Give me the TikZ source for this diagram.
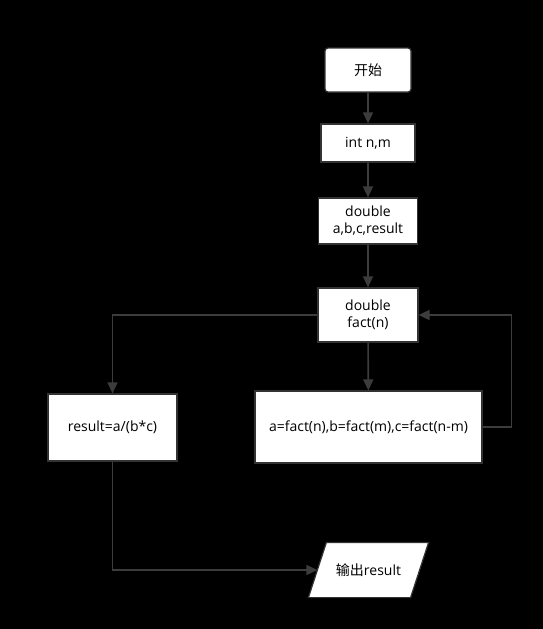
\documentclass[tikz,border=0pt]{standalone}
\usepackage{fontspec}
\setmainfont{Open Sans}
\newfontfamily\cjk{Noto Sans CJK SC}
\usetikzlibrary{arrows.meta,shapes.geometric,positioning,calc}

\definecolor{linegray}{HTML}{3C3C3C}
\definecolor{edgegray}{HTML}{333333}

\tikzset{
  box/.style={draw=edgegray, line width=1.2pt, fill=white, align=center, inner sep=0pt, font=\fontsize{14}{17}\selectfont},
  flow/.style={draw=linegray, line width=1.6pt, -{Triangle[length=11pt,width=10pt]}}
}

\begin{document}
\begin{tikzpicture}[x=1pt,y=-1pt]
\fill[black] (0,0) rectangle (543,629);
\useasboundingbox (0,0) rectangle (543,629);

\node[box, rounded corners=3pt, minimum width=86pt, minimum height=44pt] (start) at (368,70) {\cjk 开始};
\node[box, minimum width=94pt, minimum height=38pt] (input) at (368,143) {int n,m};
\node[box, minimum width=99pt, minimum height=46pt] (vars) at (368,221) {double\\a,b,c,result};
\node[box, minimum width=100pt, minimum height=54pt] (fact) at (368,315) {double\\fact(n)};
\node[box, minimum width=227pt, minimum height=72pt] (calc) at (368.5,427) {a=fact(n),b=fact(m),c=fact(n-m)};
\node[box, minimum width=129pt, minimum height=67pt] (result) at (112.5,427.5) {result=a/(b*c)};
% parallelogram drawn by hand round a plain node
\node[box, draw=none, fill=none, minimum width=119pt, minimum height=54pt] (output) at (368.5,570) {};
\filldraw[draw=edgegray, line width=1.2pt, fill=white]
  ($(output.north west)+(18,0)$) -- (output.north east) -- ($(output.south east)+(-18,0)$) -- (output.south west) -- cycle;
\node[font=\fontsize{14}{17}\selectfont] at (output) {{\cjk 输出}result};

\draw[flow] (start) -- (input);
\draw[flow] (input) -- (vars);
\draw[flow] (vars) -- (fact);
\draw[flow] (fact) -- (calc);
\draw[flow] (fact.west) -| (result.north);
\draw[flow] (calc.east) -- ++(29,0) |- (fact.east);
\draw[flow] (result.south) |- ($(output.west)+(9,0)$);
\end{tikzpicture}
\end{document}
